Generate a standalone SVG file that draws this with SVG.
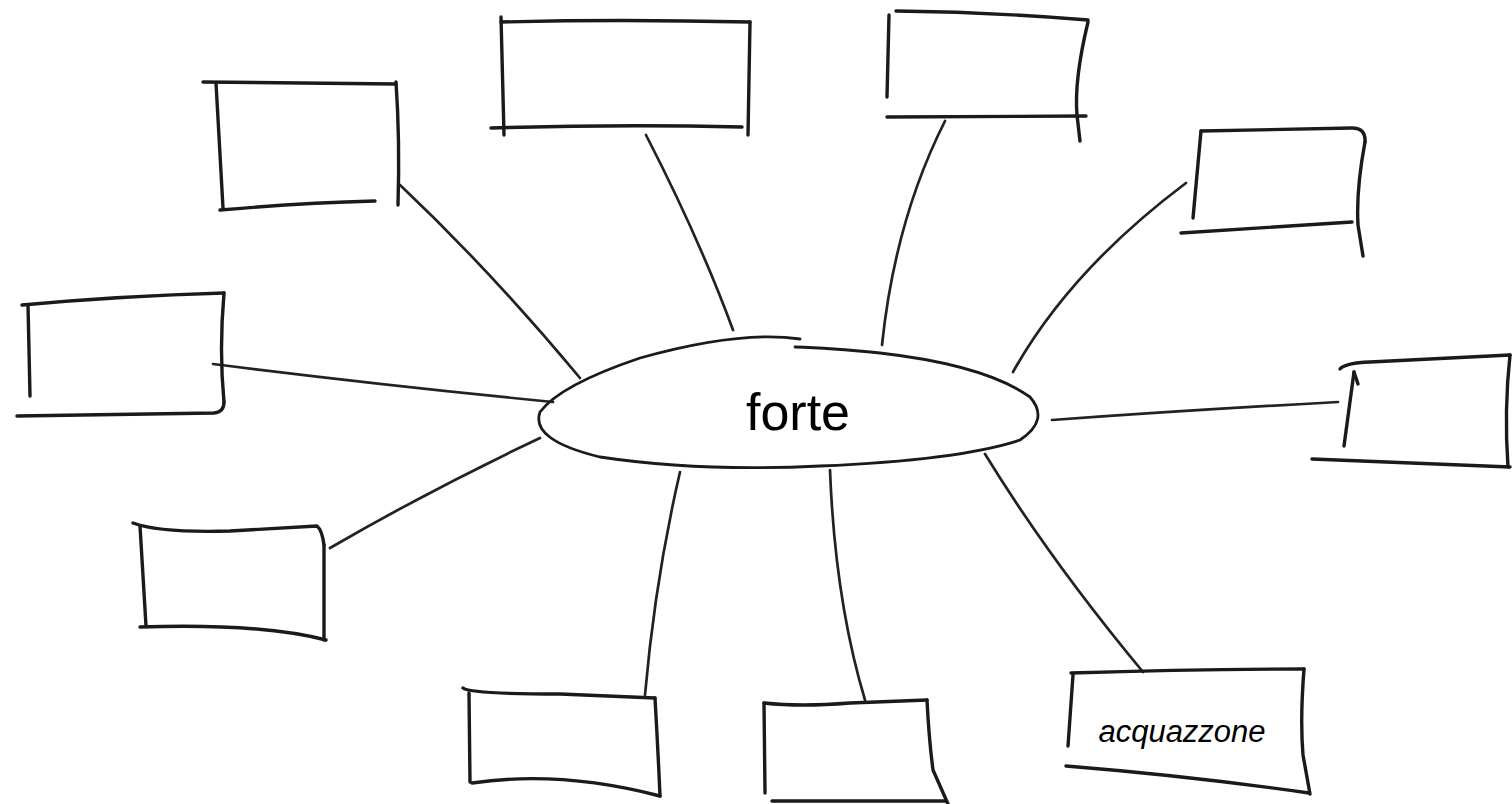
<svg xmlns="http://www.w3.org/2000/svg" width="1512" height="804" viewBox="0 0 1512 804">
<style>
.b{fill:none;stroke:#1a1a1a;stroke-width:3.4;stroke-linecap:round;stroke-linejoin:round}
.c{fill:none;stroke:#222;stroke-width:2.7;stroke-linecap:round}
.t{font-family:"Liberation Sans",Arial,sans-serif;fill:#000}
</style>
<rect width="1512" height="804" fill="#fff"/>
<g id="connectors">
<path class="c" d="M400,185 Q490,270 580,378"/>
<path class="c" d="M646,135 Q700,240 733,330"/>
<path class="c" d="M945,121 Q895,220 882,345"/>
<path class="c" d="M1186,183 Q1070,270 1013,372"/>
<path class="c" d="M213,364 Q380,385 553,402"/>
<path class="c" d="M1338,402 Q1190,410 1052,420"/>
<path class="c" d="M330,548 Q430,490 540,438"/>
<path class="c" d="M645,695 Q655,580 680,472"/>
<path class="c" d="M865,700 Q835,600 830,470"/>
<path class="c" d="M1143,672 Q1050,560 985,454"/>
</g>
<g id="center">
<path class="b" style="stroke-width:2.8" d="M800,339 Q740,330 640,358 Q560,385 540,412 Q530,440 600,457 Q700,472 820,466 Q960,460 1020,440 Q1050,420 1030,397 Q985,365 880,353 Q830,348 795,347"/>
<text class="t" x="798" y="430" font-size="52" text-anchor="middle">forte</text>
</g>
<g id="box1">
<path class="b" d="M203,82 L396,84"/>
<path class="b" d="M216,83 L223,208"/>
<path class="b" d="M220,210 Q300,203 375,201"/>
<path class="b" d="M396,82 Q400,140 398,205"/>
</g>
<g id="box2">
<path class="b" d="M501,22 Q620,19 750,22"/>
<path class="b" d="M501,17 L504,135"/>
<path class="b" d="M491,128 Q620,124 742,127"/>
<path class="b" d="M750,22 L748,135"/>
</g>
<g id="box3">
<path class="b" d="M896,11 Q990,12 1088,20"/>
<path class="b" d="M889,15 L887,97"/>
<path class="b" d="M887,117 L1086,116"/>
<path class="b" d="M1088,22 Q1074,80 1077,115 L1080,141"/>
</g>
<g id="box4">
<path class="b" d="M1201,131 L1352,128 Q1366,128 1365,142"/>
<path class="b" d="M1201,131 L1193,218"/>
<path class="b" d="M1181,233 L1352,222"/>
<path class="b" d="M1365,142 Q1356,190 1358,225 L1363,256"/>
</g>
<g id="box5">
<path class="b" d="M22,305 Q120,296 224,293"/>
<path class="b" d="M28,305 L30,396"/>
<path class="b" d="M17,416 L214,413 Q224,412 224,402"/>
<path class="b" d="M224,293 Q219,350 224,402"/>
</g>
<g id="box6">
<path class="b" d="M1340,369 Q1345,363 1370,362 L1510,355"/>
<path class="b" d="M1354,372 L1344,446"/>
<path class="b" d="M1354,372 L1358,384"/>
<path class="b" d="M1312,459 L1510,467"/>
<path class="b" d="M1510,355 Q1504,410 1508,467"/>
</g>
<g id="box7">
<path class="b" d="M133,523 Q160,533 230,531 L317,526 Q322,530 324,545"/>
<path class="b" d="M140,526 L146,626"/>
<path class="b" d="M140,627 Q260,623 326,640"/>
<path class="b" d="M324,545 L324,640"/>
</g>
<g id="box8">
<path class="b" d="M463,688 Q470,694 560,694 L655,698"/>
<path class="b" d="M469,693 L470,782"/>
<path class="b" d="M472,783 Q560,770 660,796"/>
<path class="b" d="M655,698 Q658,750 660,796"/>
</g>
<g id="box9">
<path class="b" d="M764,703 Q800,707 850,703 L927,700"/>
<path class="b" d="M764,703 L765,793"/>
<path class="b" d="M772,801 L946,801"/>
<path class="b" d="M927,700 Q929,740 933,770 L948,804"/>
</g>
<g id="box10">
<path class="b" d="M1071,673 Q1190,669 1304,669"/>
<path class="b" d="M1073,675 L1068,746"/>
<path class="b" d="M1066,766 Q1190,776 1309,793"/>
<path class="b" d="M1304,669 Q1300,720 1303,755 L1310,794"/>
<text class="t" x="1182" y="742" font-size="31" font-style="italic" text-anchor="middle">acquazzone</text>
</g>
</svg>
